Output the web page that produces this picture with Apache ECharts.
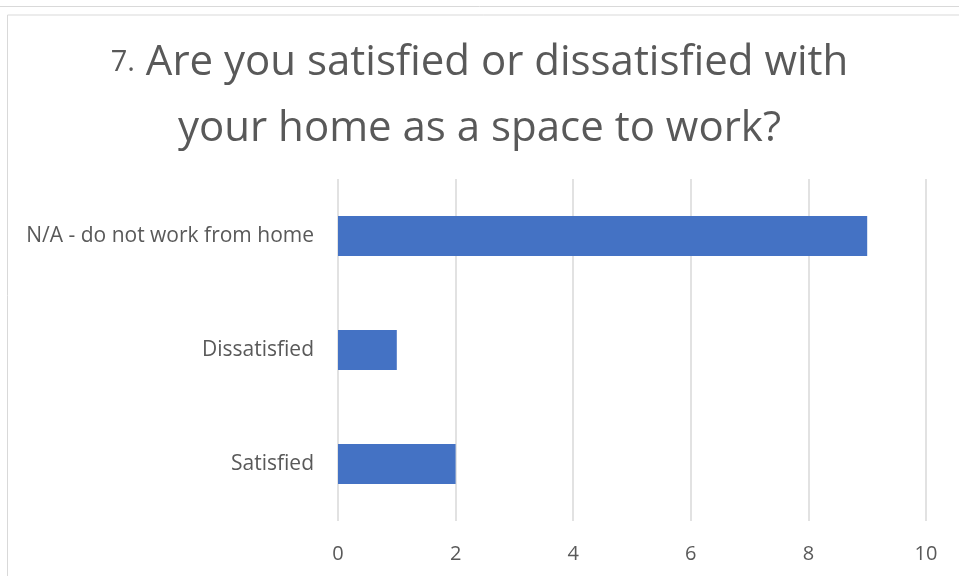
<!DOCTYPE html>
<html>
<head>
<meta charset="utf-8">
<script src="https://cdn.jsdelivr.net/npm/echarts@6/dist/echarts.min.js"></script>
<style>
  html, body { margin: 0; padding: 0; background: #ffffff; }
  #chart { width: 959px; height: 576px; }
</style>
</head>
<body>
<div id="chart"></div>
<script>
// survey answers, bottom to top as drawn
var categories = ['Satisfied', 'Dissatisfied', 'N/A - do not work from home'];
var counts = [2, 1, 9];
var xTicks = [0, 2, 4, 6, 8, 10];

var chart = echarts.init(document.getElementById('chart'));

var option = {
  backgroundColor: '#ffffff',
  animation: false,
  title: {
    left: 'center',
    top: 25,
    text: '{n|7.} Are you satisfied or dissatisfied with\nyour home as a space to work?',
    textStyle: {
      fontFamily: 'Open Sans',
      fontSize: 42,
      fontWeight: 'normal',
      color: '#595959',
      lineHeight: 66,
      rich: {
        n: { fontFamily: 'Open Sans', fontSize: 29, color: '#595959' }
      }
    }
  },
  grid: {
    left: 338,
    right: 33,
    top: 179,
    bottom: 55,
    containLabel: false
  },
  xAxis: {
    type: 'value',
    min: xTicks[0],
    max: xTicks[xTicks.length - 1],
    interval: 2,
    axisLine: { show: false },
    axisTick: { show: false },
    splitLine: { lineStyle: { color: '#d9d9d9', width: 1.5 } },
    axisLabel: {
      margin: 23,
      fontFamily: 'Open Sans',
      fontSize: 20,
      color: '#595959'
    }
  },
  yAxis: {
    type: 'category',
    data: categories,
    axisLine: { show: false },
    axisTick: { show: false },
    axisLabel: {
      margin: 24,
      fontFamily: 'Open Sans',
      fontSize: 21,
      color: '#595959'
    }
  },
  series: [{
    type: 'bar',
    data: counts,
    barWidth: 40,
    itemStyle: { color: '#4472C4' }
  }],
  graphic: [
    // screenshot frame lines
    { type: 'line', shape: { x1: 0, y1: 6.5, x2: 959, y2: 6.5 }, style: { stroke: '#d9d9d9', lineWidth: 1 } },
    { type: 'line', shape: { x1: 7.5, y1: 15, x2: 959, y2: 15 }, style: { stroke: '#d9d9d9', lineWidth: 1 } },
    { type: 'line', shape: { x1: 7.5, y1: 15, x2: 7.5, y2: 576 }, style: { stroke: '#d9d9d9', lineWidth: 1 } }
  ]
};

chart.setOption(option);
</script>
</body>
</html>
